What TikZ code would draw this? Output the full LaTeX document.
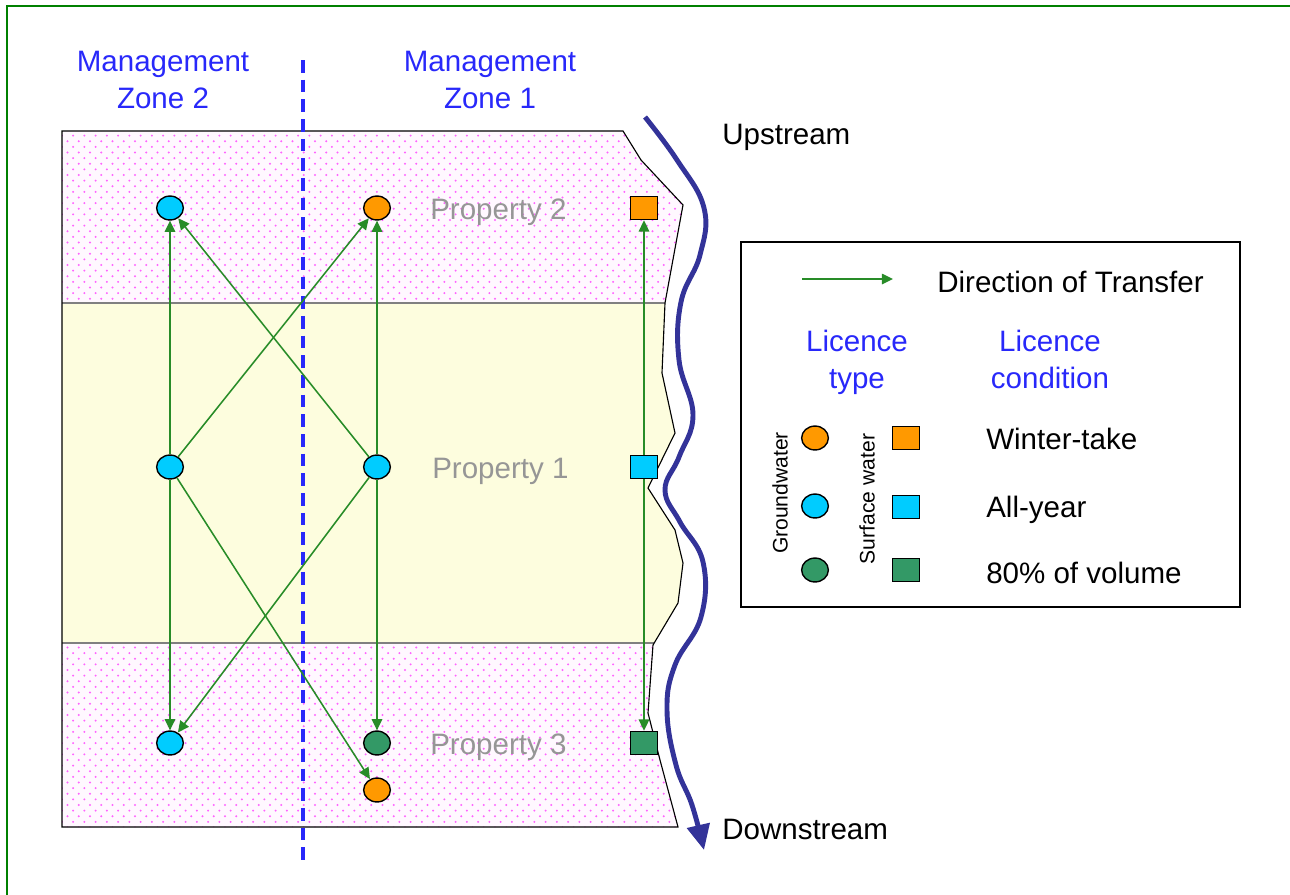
\documentclass[tikz,border=0pt]{standalone}
\usepackage{fontspec}
\setmainfont{Liberation Sans}
\usepackage{tikz}
\usepackage{xcolor}
\usetikzlibrary{
    arrows.meta,
    patterns.meta,
    shapes.geometric
}
\definecolor{frameGreen}{RGB}{0,128,0}
\definecolor{arrowGreen}{RGB}{40,140,40}
\definecolor{zoneBlue}{RGB}{40,40,250}
\definecolor{riverBlue}{RGB}{51,51,153}
\definecolor{winterOrange}{RGB}{255,153,0}
\definecolor{allyearCyan}{RGB}{0,204,255}
\definecolor{volumeGreen}{RGB}{51,153,102}
\definecolor{landPink}{RGB}{255,248,255}
\definecolor{dotPink}{RGB}{255,100,255}
\definecolor{landYellow}{RGB}{253,253,222}
\definecolor{propGray}{RGB}{150,150,150}
\tikzset{
    gw/.style={draw, ellipse, line width=1pt, minimum width=19pt, minimum height=17pt, inner sep=0pt},
    sw/.style={draw, rectangle, line width=1pt, minimum width=19.5pt, minimum height=16.5pt, inner sep=0pt},
    transfer/.style={draw=arrowGreen, line width=1.1pt, -{Triangle[length=8pt,width=7.5pt]}},
    bigtext/.style={font=\fontsize{21}{26.3}\selectfont, inner sep=0pt},
    smalltext/.style={font=\fontsize{15}{18}\selectfont}
}

\begin{document}
\begin{tikzpicture}[x=0.025cm, y=-0.025cm]
            \useasboundingbox (0,0) rectangle (1290,895);
            \draw[frameGreen, line width=1.5pt] (7,6) rectangle (1320,925);

            \def\landshape{(62,131) -- (623,131) -- (641,160) -- (683,205) -- (665,303) -- (662,373) -- (675,433) -- (648,488) -- (675,530) -- (683,563) -- (678,603) -- (653,645) -- (648,713) -- (660,760) -- (678,827) -- (62,827) -- cycle}
            \fill[landPink] \landshape;
            \fill[pattern={Dots[distance=8pt, radius=0.75pt]}, pattern color=dotPink] \landshape;
            \fill[pattern={Dots[distance=8pt, radius=0.75pt, xshift=4pt, yshift=4pt]}, pattern color=dotPink] \landshape;
            \begin{scope}
                \clip \landshape;
                \fill[landYellow] (50,303) rectangle (700,643);
                \draw[gray, line width=1pt] (50,303) -- (700,303) (50,643) -- (700,643);
            \end{scope}
            \draw[line width=0.8pt] \landshape;

            \draw[riverBlue, line width=3.5pt, -{Triangle[length=18pt,width=16pt]}] plot[smooth, tension=0.7] coordinates {(645,117) (677,160) (704,208) (700,255) (681,302) (679,360) (693,415) (679,457) (665,490) (680,522) (703,562) (701,617) (675,665) (667,710) (676,765) (692,805) (704,850)};

            \coordinate (divtop) at (303,60);
            \coordinate (divbot) at (303,865);
            \draw[zoneBlue, line width=2.4pt, dash pattern=on 9pt off 5pt] (divtop) -- (divbot);

            \node[bigtext, zoneBlue, align=center, anchor=base] (zone2label) at (163,108) {Management\\Zone 2};
            \node[bigtext, zoneBlue, align=center, anchor=base] (zone1label) at (490,108) {Management\\Zone 1};
            \node[bigtext, anchor=base west] (upstream) at (722,144) {Upstream};
            \node[bigtext, anchor=base west] (downstream) at (722,839) {Downstream};

            \node[bigtext, propGray, anchor=base west] (prop2) at (430,219) {Property 2};
            \node[bigtext, propGray, anchor=base west] (prop1) at (432,478) {Property 1};
            \node[bigtext, propGray, anchor=base west] (prop3) at (430,754) {Property 3};

            \node[gw, fill=allyearCyan] (zone2p2) at (170,208) {};
            \node[gw, fill=winterOrange] (zone1p2) at (377,208) {};
            \node[sw, fill=winterOrange] (swp2) at (644,208) {};

            \node[gw, fill=allyearCyan] (zone2p1) at (170,467) {};
            \node[gw, fill=allyearCyan] (zone1p1) at (377,467) {};
            \node[sw, fill=allyearCyan] (swp1) at (644,467) {};

            \node[gw, fill=allyearCyan] (zone2p3) at (170,743) {};
            \node[gw, fill=volumeGreen] (zone1p3) at (377,743) {};
            \node[gw, fill=winterOrange] (zone1p3b) at (377,790) {};
            \node[sw, fill=volumeGreen] (swp3) at (644,743) {};

            \draw[transfer] (zone2p1)--(zone2p2);
            \draw[transfer] (zone2p1)--(zone1p2);
            \draw[transfer] (zone1p1)--(zone2p2);
            \draw[transfer] (zone1p1)--(zone1p2);
            \draw[transfer] (swp1)--(swp2);

            \draw[transfer] (zone2p1)--(zone2p3);
            \draw[transfer] (zone2p1)--(zone1p3b);
            \draw[transfer] (zone1p1)--(zone2p3);
            \draw[transfer] (zone1p1)--(zone1p3);
            \draw[transfer] (swp1)--(swp3);

            \draw[line width=1pt] (741,242) rectangle (1240,607);
            \coordinate (legfrom) at (802,279);
            \coordinate (legto) at (893,279);
            \draw[transfer] (legfrom)--(legto);
            \node[bigtext, anchor=base west] (legtransfer) at (937,292) {Direction of Transfer};
            \node[bigtext, zoneBlue, align=center, anchor=base] (legtype) at (857,388) {Licence\\type};
            \node[bigtext, zoneBlue, align=center, anchor=base] (legcond) at (1050,388) {Licence\\condition};

            \node[smalltext, rotate=90] (leggw) at (780,493) {Groundwater};
            \node[smalltext, rotate=90] (legsw) at (867,499) {Surface water};

            \node[gw, fill=winterOrange] (leggw1) at (815,438) {};
            \node[gw, fill=allyearCyan] (leggw2) at (815,506) {};
            \node[gw, fill=volumeGreen] (leggw3) at (815,570) {};
            \node[sw, fill=winterOrange] (legsw1) at (906,438) {};
            \node[sw, fill=allyearCyan] (legsw2) at (906,507) {};
            \node[sw, fill=volumeGreen] (legsw3) at (906,570) {};

            \node[bigtext, anchor=base west] (legwinter) at (986,449) {Winter-take};
            \node[bigtext, anchor=base west] (legallyear) at (986,517) {All-year};
            \node[bigtext, anchor=base west] (legvolume) at (986,583) {80\% of volume};
\end{tikzpicture}
\end{document}
